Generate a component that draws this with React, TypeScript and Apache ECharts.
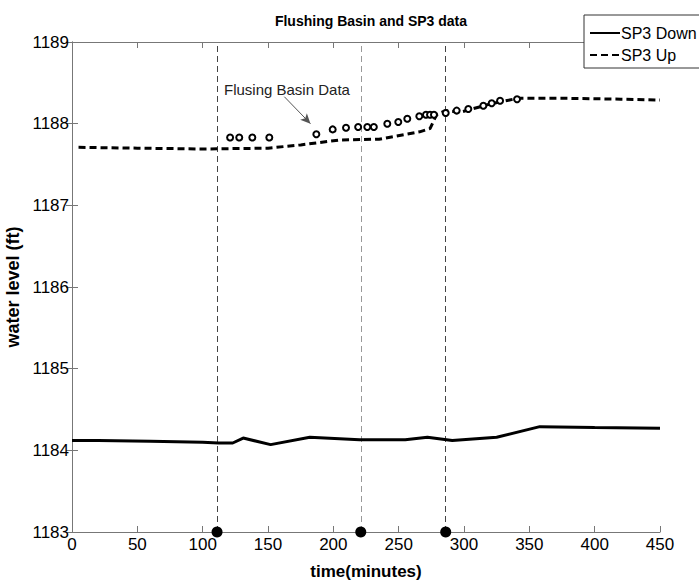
import React, { useEffect, useRef } from "react";
import * as echarts from "echarts";

const downX = [0, 20, 60, 100, 112, 123, 131, 152, 182, 220, 255, 272, 291, 325, 358, 400, 450];
const downY = [1184.12, 1184.12, 1184.11, 1184.1, 1184.09, 1184.09, 1184.15, 1184.07, 1184.16, 1184.13, 1184.13, 1184.16, 1184.12, 1184.16, 1184.29, 1184.28, 1184.27];

const upX = [5, 50, 100, 150, 175, 205, 235, 266, 274, 279, 286, 297, 320, 341, 380, 420, 450];
const upY = [1187.71, 1187.7, 1187.69, 1187.7, 1187.74, 1187.8, 1187.81, 1187.9, 1187.94, 1188.11, 1188.16, 1188.14, 1188.24, 1188.31, 1188.31, 1188.3, 1188.29];

const basinX = [121, 128, 138, 151, 187, 199.5, 209.7, 219, 226, 231, 241.3, 249.7, 256.6, 265.8, 270.9, 274, 277, 286, 294.4, 303.3, 314.8, 321.2, 327.6, 340.6];
const basinY = [1187.83, 1187.83, 1187.83, 1187.83, 1187.87, 1187.93, 1187.95, 1187.96, 1187.96, 1187.96, 1188.0, 1188.02, 1188.06, 1188.09, 1188.11, 1188.11, 1188.11, 1188.13, 1188.16, 1188.18, 1188.22, 1188.25, 1188.28, 1188.3];

const eventX = [111, 221, 286];
const eventColors = ["#444", "#999", "#444"];

const xTicks = { min: 0, max: 450, interval: 50 };
const yTicks = { min: 1183, max: 1189, interval: 1 };

const FONT = "'Liberation Sans', Arial, sans-serif";

export default function App() {
  const ref = useRef<HTMLDivElement>(null);
  useEffect(() => {
    if (!ref.current) return;
    const chart = echarts.init(ref.current, null, { renderer: "svg" });
    const axisLine = { show: true, lineStyle: { color: "#777", width: 1 } };
    const tick = { show: true, inside: true, length: 6, lineStyle: { color: "#777" } };
    const option: any = {
      animation: false,
      backgroundColor: "#fff",
      textStyle: { fontFamily: FONT },
      title: {
        text: "Flushing Basin and SP3 data",
        left: 366,
        textAlign: "center",
        top: 9,
        textStyle: { fontFamily: FONT, fontWeight: "bold", fontSize: 14, color: "#000" },
      },
      grid: { left: 72, right: 39, top: 42, bottom: 50, containLabel: false, outerBoundsMode: "none" },
      legend: {
        data: [
          { name: "SP3 Down", itemStyle: { opacity: 0 } },
          { name: "SP3 Up", itemStyle: { opacity: 0 } },
        ],
        orient: "vertical",
        left: 584,
        top: 20,
        itemWidth: 30,
        itemHeight: 10,
        itemGap: 6,
        z: 60,
        textStyle: { fontFamily: FONT, fontSize: 16, color: "#000", padding: [0, 0, 0, -4] },
      },
      xAxis: [
        {
          type: "value",
          min: xTicks.min,
          max: xTicks.max,
          interval: xTicks.interval,
          name: "time(minutes)",
          nameLocation: "middle",
          nameGap: 31,
          nameTextStyle: { fontFamily: FONT, fontWeight: "bold", fontSize: 17, color: "#000" },
          axisLine,
          axisTick: tick,
          axisLabel: { color: "#000", fontSize: 17, fontFamily: FONT, margin: 4 },
          splitLine: { show: false },
        },
        {
          type: "value",
          position: "top",
          min: xTicks.min,
          max: xTicks.max,
          interval: xTicks.interval,
          axisLine,
          axisTick: tick,
          axisLabel: { show: false },
          splitLine: { show: false },
        },
      ],
      yAxis: [
        {
          type: "value",
          min: yTicks.min,
          max: yTicks.max,
          interval: yTicks.interval,
          name: "water level (ft)",
          nameLocation: "middle",
          nameGap: 47,
          nameTextStyle: { fontFamily: FONT, fontWeight: "bold", fontSize: 18, color: "#000" },
          axisLine,
          axisTick: tick,
          axisLabel: { color: "#000", fontSize: 17, fontFamily: FONT, margin: 3, formatter: (v: number) => String(v) },
          splitLine: { show: false },
        },
        {
          type: "value",
          position: "right",
          min: yTicks.min,
          max: yTicks.max,
          interval: yTicks.interval,
          axisLine,
          axisTick: tick,
          axisLabel: { show: false },
          splitLine: { show: false },
        },
      ],
      graphic: [
        {
          type: "rect",
          z: 50,
          shape: { x: 584, y: 15, width: 200, height: 53 },
          style: { fill: "#fff", stroke: "#333", lineWidth: 1 },
        },
        {
          type: "text",
          z: 50,
          x: 224,
          y: 82,
          style: { text: "Flusing Basin Data", fontFamily: FONT, fontSize: 15, fill: "#222" },
        },
      ],
      series: [
        {
          name: "SP3 Down",
          type: "line",
          symbol: "none",
          data: downX.map((x, i) => [x, downY[i]]),
          lineStyle: { color: "#000", width: 3 },
          itemStyle: { color: "#000" },
          z: 5,
          markLine: {
            silent: true,
            symbol: ["none", "none"],
            label: { show: false },
            data: eventX.map((x, i) => ({
              xAxis: x,
              lineStyle: { color: eventColors[i], type: [6, 4], width: 1 },
            })),
          },
        },
        {
          name: "SP3 Up",
          type: "line",
          symbol: "none",
          data: upX.map((x, i) => [x, upY[i]]),
          lineStyle: { color: "#000", width: 3, type: [7, 4] },
          itemStyle: { color: "#000" },
          z: 5,
        },
        {
          name: "Flushing Basin",
          type: "scatter",
          symbol: "emptyCircle",
          symbolSize: 6,
          data: basinX.map((x, i) => [x, basinY[i]]),
          itemStyle: { color: "#000", borderColor: "#000", borderWidth: 1.8, opacity: 1 },
          z: 6,
          markLine: {
            silent: true,
            symbol: ["none", "arrow"],
            symbolSize: [7, 10],
            label: { show: false },
            lineStyle: { color: "#555", width: 1, type: "solid" },
            data: [[{ coord: [162.5, 1188.33] }, { coord: [182.5, 1188.0] }]],
          },
        },
        {
          name: "Events",
          type: "scatter",
          symbol: "circle",
          symbolSize: 11,
          clip: false,
          data: eventX.map((x) => [x, yTicks.min]),
          itemStyle: { color: "#000", opacity: 1 },
          z: 8,
        },
      ],
    };
    chart.setOption(option);
    return () => chart.dispose();
  }, []);
  return <div ref={ref} style={{ width: 699, height: 582, position: "absolute", left: 0, top: 0 }} />;
}
